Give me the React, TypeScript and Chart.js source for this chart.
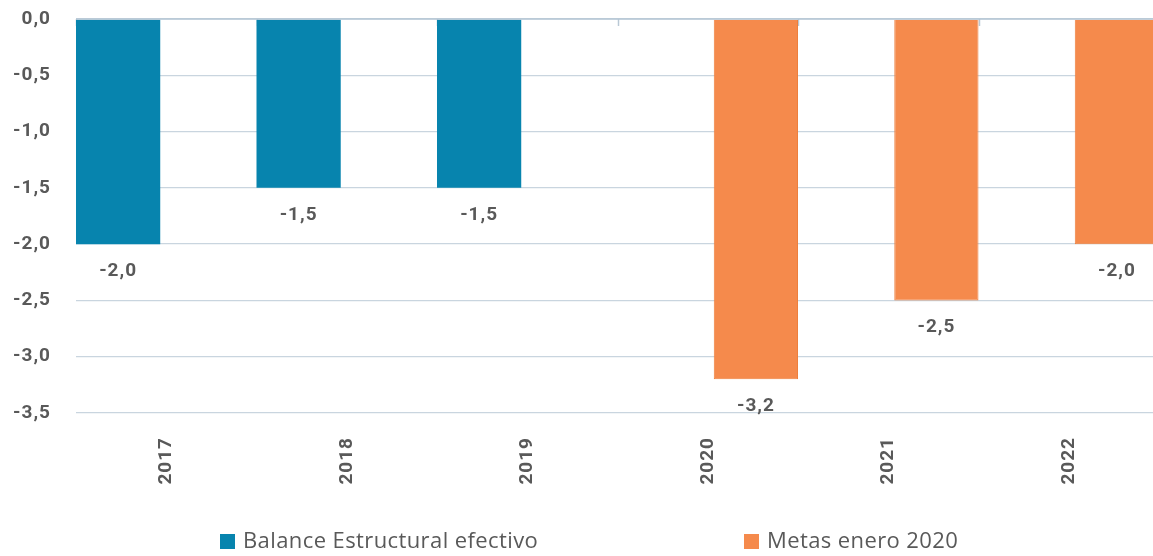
import React, { useEffect, useRef } from "react";
import { Chart, registerables } from "chart.js";

Chart.register(...registerables);

const categories = ["2017", "2018", "2019", "2020", "2021", "2022"];
const balanceEfectivo = [-2.0, -1.5, -1.5, null, null, null];
const metasEnero2020 = [null, null, null, -3.2, -2.5, -2.0];
const seriesNames = ["Balance Estructural efectivo", "Metas enero 2020"];
const yMin = -3.5;
const yMax = 0;
const yStep = 0.5;

const BLUE = "#0784AE";
const ORANGE = "#F58A4C";
const TEXT = "#595959";
const TICK_FONT = { family: "Roboto", size: 19, weight: "bold" as const };

const fmt = (v: number) => {
  const s = Math.abs(v).toFixed(1).replace(".", ",");
  return v < -0.0001 ? "-" + s : s;
};

const spacingPlugin = {
  id: "spacing",
  beforeUpdate(chart: any) {
    chart.ctx.letterSpacing = "1px";
  },
  beforeDraw(chart: any) {
    chart.ctx.letterSpacing = "1px";
  },
};

const boundaryTicks = {
  id: "boundaryTicks",
  beforeDatasetsDraw(chart: any) {
    const { ctx, chartArea, scales } = chart;
    const xs = scales.x;
    const n = categories.length;
    const w = (xs.right - xs.left) / n;
    ctx.save();
    ctx.strokeStyle = "#b9c8d5";
    ctx.lineWidth = 1.5;
    for (let i = 0; i <= n; i++) {
      const x = Math.round(xs.left + i * w) + 0.5;
      ctx.beginPath();
      ctx.moveTo(x, chartArea.top);
      ctx.lineTo(x, chartArea.top + 7);
      ctx.stroke();
    }
    ctx.restore();
  },
};

const zeroLine = {
  id: "zeroLine",
  afterDatasetsDraw(chart: any) {
    const { ctx, chartArea, scales } = chart;
    const y = scales.y.getPixelForValue(0);
    ctx.save();
    ctx.strokeStyle = "rgba(180,198,212,0.75)";
    ctx.lineWidth = 2;
    ctx.beginPath();
    ctx.moveTo(chartArea.left, y);
    ctx.lineTo(chartArea.right, y);
    ctx.stroke();
    ctx.restore();
  },
};

const valueLabels = {
  id: "valueLabels",
  afterDatasetsDraw(chart: any) {
    const { ctx } = chart;
    ctx.save();
    ctx.font = `bold 19px Roboto`;
    ctx.fillStyle = TEXT;
    ctx.textAlign = "center";
    ctx.textBaseline = "middle";
    chart.data.datasets.forEach((ds: any, di: number) => {
      const meta = chart.getDatasetMeta(di);
      meta.data.forEach((el: any, i: number) => {
        const v = ds.data[i];
        if (v === null || v === undefined) return;
        ctx.fillText(fmt(v), el.x, el.y + 27);
      });
    });
    ctx.restore();
  },
};

const bottomLegend = {
  id: "bottomLegend",
  afterDraw(chart: any) {
    const { ctx } = chart;
    const starts = [220, 744];
    const yMid = 541;
    ctx.save();
    ctx.letterSpacing = "0.4px";
    ctx.font = `22px "Open Sans"`;
    ctx.textBaseline = "middle";
    ctx.textAlign = "left";
    chart.data.datasets.forEach((ds: any, i: number) => {
      const x = starts[i];
      ctx.fillStyle = ds.backgroundColor;
      ctx.fillRect(x, yMid - 7, 15, 15);
      ctx.fillStyle = TEXT;
      ctx.fillText(ds.label, x + 23, yMid + 1);
    });
    ctx.restore();
  },
};

export default function App() {
  const ref = useRef<HTMLCanvasElement | null>(null);

  useEffect(() => {
    document.body.style.margin = "0";
    const canvas = ref.current!;
    const chart = new Chart(canvas, {
      type: "bar",
      data: {
        labels: categories,
        datasets: [
          {
            label: seriesNames[0],
            data: balanceEfectivo as any,
            backgroundColor: BLUE,
            borderWidth: 0,
          },
          {
            label: seriesNames[1],
            data: metasEnero2020 as any,
            backgroundColor: ORANGE,
            borderColor: "#ee7f3c",
            borderWidth: 1,
          },
        ],
      },
      options: {
        responsive: false,
        animation: false,
        devicePixelRatio: 1,
        categoryPercentage: 1.0667,
        barPercentage: 0.875,
        layout: { padding: { top: 19, bottom: 69, left: 0, right: 0 } },
        plugins: {
          legend: { display: false },
          tooltip: { enabled: false },
        },
        scales: {
          x: {
            grid: { display: false, drawTicks: false },
            border: { display: false },
            ticks: {
              color: TEXT,
              font: TICK_FONT,
              minRotation: 90,
              maxRotation: 90,
              padding: 24,
            },
            afterFit(scale: any) {
              scale.height = 74;
              scale.paddingLeft = 0;
              scale.paddingRight = 0;
            },
          },
          y: {
            min: yMin,
            max: yMax,
            grid: { color: "#c9d5df", lineWidth: 1.3, drawTicks: false },
            border: { display: false },
            ticks: {
              stepSize: yStep,
              color: TEXT,
              font: TICK_FONT,
              padding: 25,
              callback: (v: any) => fmt(Number(v)),
            },
            afterFit(scale: any) {
              scale.width = 76;
              scale.paddingTop = 0;
              scale.paddingBottom = 0;
            },
          },
        },
      },
      plugins: [spacingPlugin, boundaryTicks, zeroLine, valueLabels, bottomLegend],
    } as any);
    return () => chart.destroy();
  }, []);

  return (
    <div style={{ width: 1153, height: 556, overflow: "hidden", position: "relative" }}>
      <canvas ref={ref} width={1159} height={556} style={{ display: "block" }} />
    </div>
  );
}
